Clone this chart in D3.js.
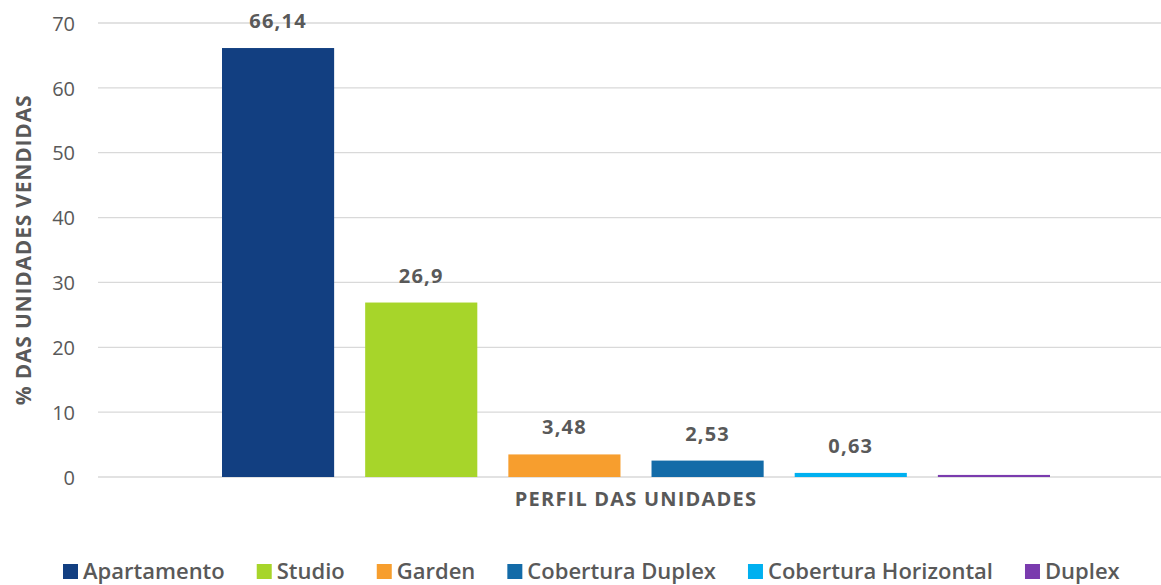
<!DOCTYPE html>
<html>
<head>
<meta charset="utf-8">
<script src="https://cdn.jsdelivr.net/npm/d3@7"></script>
<style>
  body { margin: 0; background: #fff; }
  svg { display: block; font-family: "Open Sans", sans-serif; }
</style>
</head>
<body>
<svg id="chart" width="1161" height="585"></svg>
<script>
const categories = ["Apartamento", "Studio", "Garden", "Cobertura Duplex", "Cobertura Horizontal", "Duplex"];
const values = [66.14, 26.9, 3.48, 2.53, 0.63, 0.32];
const valueLabels = ["66,14", "26,9", "3,48", "2,53", "0,63", null];
const colors = ["#123F81", "#A7D52A", "#F79E2E", "#136BA8", "#00B0F0", "#7A3BAE"];
const yTicks = [0, 10, 20, 30, 40, 50, 60, 70];

const svg = d3.select("#chart");
const gridLeft = 98, gridRight = 1161;
const y = d3.scaleLinear().domain([0, 70]).range([477, 23]);
const x = d3.scaleBand().domain(categories).range([222, 1050]).paddingInner(0.2168).paddingOuter(0);

// gridlines
svg.append("g").selectAll("line").data(yTicks).join("line")
  .attr("x1", gridLeft).attr("x2", gridRight)
  .attr("y1", d => y(d)).attr("y2", d => y(d))
  .attr("stroke", "#d9d9d9").attr("stroke-width", 1.3);

// y axis tick labels
const yAxis = d3.axisLeft(y).tickValues(yTicks).tickSize(0).tickPadding(0).tickFormat(d3.format("d"));
const ya = svg.append("g").attr("transform", "translate(75,0)").call(yAxis);
ya.select(".domain").remove();
ya.selectAll("text").attr("font-size", 20).attr("fill", "#595959")
  .attr("font-family", "Open Sans, sans-serif").attr("dy", "0.36em");

// bars
svg.append("g").selectAll("rect").data(values).join("rect")
  .attr("x", (d, i) => x(categories[i]))
  .attr("width", x.bandwidth())
  .attr("y", d => y(d))
  .attr("height", d => y(0) - y(d))
  .attr("fill", (d, i) => colors[i]);

// value labels
svg.append("g").selectAll("text").data(values).join("text")
  .attr("x", (d, i) => x(categories[i]) + x.bandwidth() / 2)
  .attr("y", d => y(d) - 20)
  .attr("text-anchor", "middle")
  .attr("font-size", 20).attr("font-weight", 700).attr("letter-spacing", 1.2)
  .attr("fill", "#595959")
  .text((d, i) => valueLabels[i] || "");

// axis titles
svg.append("text")
  .attr("transform", "translate(31,250) rotate(-90)")
  .attr("text-anchor", "middle")
  .attr("font-size", 21).attr("font-weight", 700).attr("letter-spacing", 0.8).attr("fill", "#595959")
  .text("% DAS UNIDADES VENDIDAS");

svg.append("text")
  .attr("x", 636).attr("y", 506)
  .attr("text-anchor", "middle")
  .attr("font-size", 20).attr("font-weight", 700).attr("letter-spacing", 1.2).attr("fill", "#595959")
  .text("PERFIL DAS UNIDADES");

// legend
const legend = svg.append("g");
let lx = 63;
categories.forEach((c, i) => {
  const g = legend.append("g").attr("transform", `translate(${lx},0)`);
  g.append("rect").attr("x", 0).attr("y", 564).attr("width", 15).attr("height", 15).attr("fill", colors[i]);
  const t = g.append("text").attr("x", 20).attr("y", 579)
    .attr("font-size", 22).attr("font-weight", 600).attr("fill", "#595959").text(c);
  const w = t.node().getComputedTextLength();
  lx += 20 + w + 32;
});
</script>
</body>
</html>
